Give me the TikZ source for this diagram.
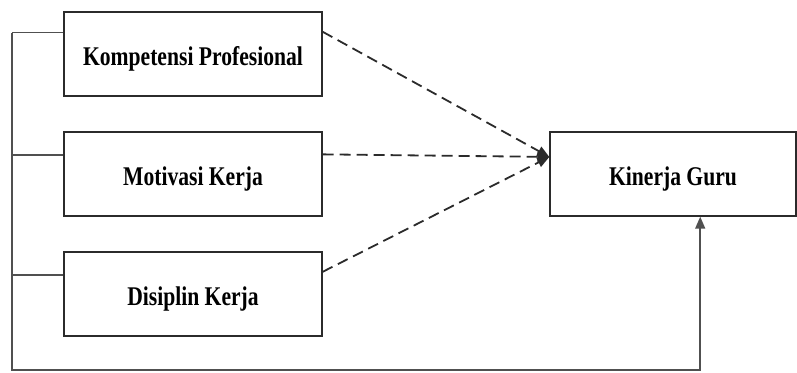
\documentclass[tikz,border=0pt]{standalone}
\usepackage{fontspec}
\setmainfont{Liberation Serif}
\newfontfamily\boxfont[FakeStretch=0.8]{Liberation Serif}
\usetikzlibrary{arrows.meta,calc}
\definecolor{frame}{HTML}{2B2B2B}
\definecolor{railgray}{HTML}{505050}

\tikzset{
  varbox/.style={draw=frame,line width=1.4pt,minimum width=258pt,minimum height=84pt,
    inner sep=0pt,text height=23pt,text depth=0pt,
    font=\fontsize{27}{30}\boxfont\bfseries\selectfont},
  effect/.style={draw=frame,line width=1.8pt,dash pattern=on 11pt off 6pt,
    -{Triangle[length=12pt,width=10pt]}},
  rail/.style={draw=railgray,line width=1.5pt}
}

\begin{document}
\begin{tikzpicture}[x=1pt,y=1pt]
  \useasboundingbox (0,0) rectangle (797,-372);
  % variables
  \foreach \n/\y/\t in {kp/54/{Kompetensi Profesional},
                        mk/174/{Motivasi Kerja},
                        dk/294/{Disiplin Kerja}}
    { \node[varbox] (\n) at (193,-\y) {\t}; }
  \node[varbox,minimum width=246pt] (kg) at (673,-174) {Kinerja Guru};
  \coordinate (hit) at ($(kg.north west)!0.3!(kg.south west)$);
  \coordinate (corner) at (12,-370);
  \coordinate (kgin) at ($(kg.south west)!0.61!(kg.south east)$);
  % links
  \foreach \n/\f/\g in {kp/0.25/0.24, mk/0.28/0.27, dk/0.28/0.24}
    { \coordinate (\n-w) at ($(\n.north west)!\f!(\n.south west)$);
      \coordinate (\n-e) at ($(\n.north east)!\g!(\n.south east)$);
      \draw[rail] (\n-w) -- (\n-w -| corner);
      \draw[effect] (\n-e) -- (hit); }
  \draw[rail,-{Triangle[length=12pt,width=10pt]}] (kp-w -| corner) -- (corner) -| (kgin);
\end{tikzpicture}
\end{document}
